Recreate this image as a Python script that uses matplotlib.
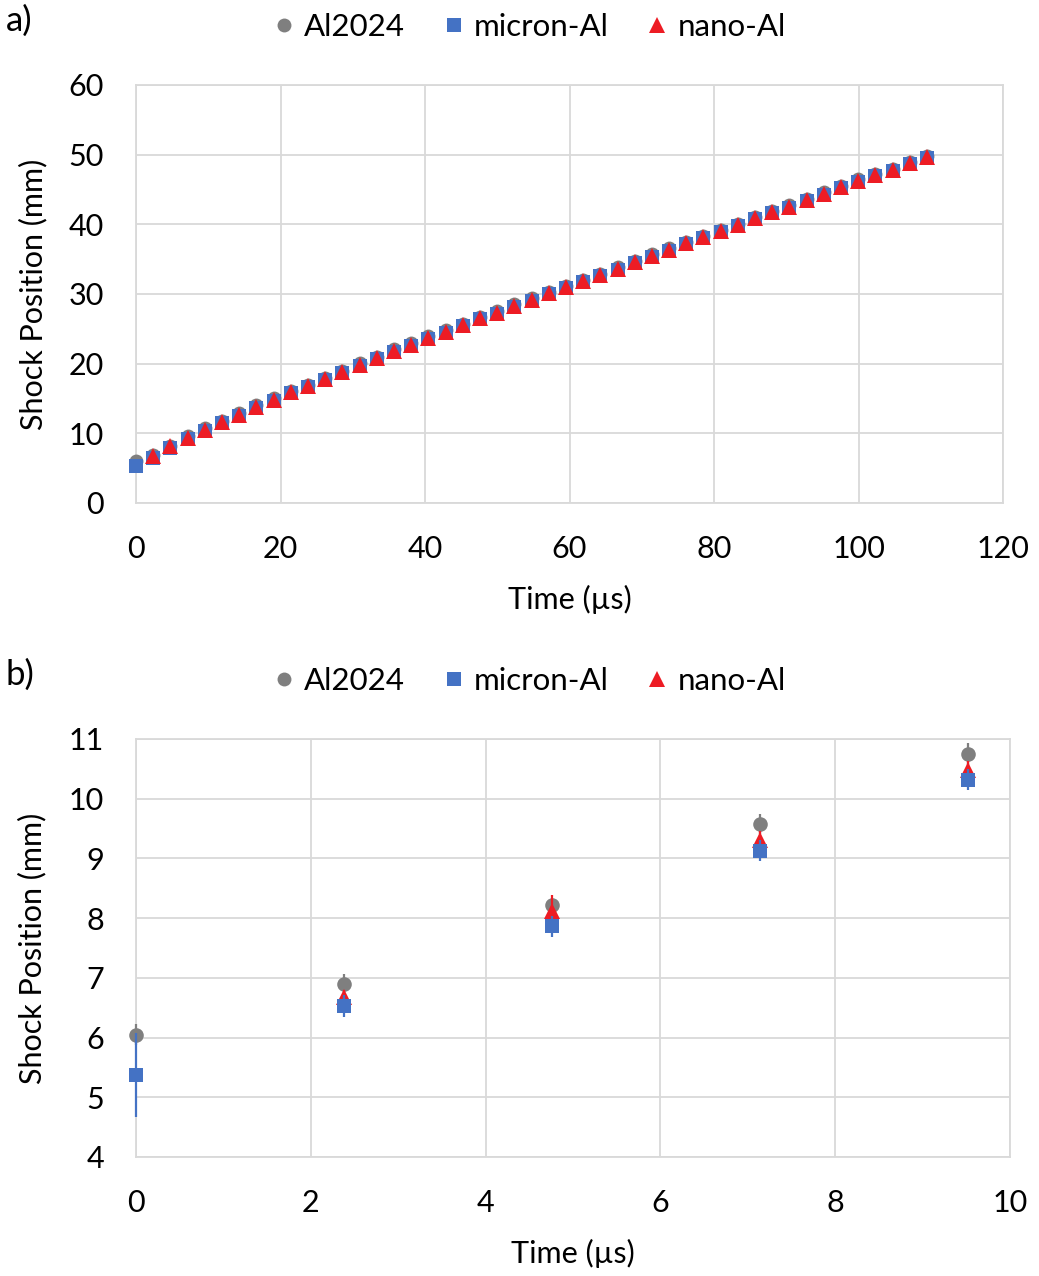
import numpy as np
import matplotlib.pyplot as plt

# time axis: frame interval ~2.38 us, 47 frames
time_us = [0.0, 2.38, 4.76, 7.14, 9.52, 11.9, 14.28, 16.66, 19.04, 21.42,
           23.8, 26.18, 28.56, 30.94, 33.32, 35.7, 38.08, 40.46, 42.84, 45.22,
           47.6, 49.98, 52.36, 54.74, 57.12, 59.5, 61.88, 64.26, 66.64, 69.02,
           71.4, 73.78, 76.16, 78.54, 80.92, 83.3, 85.68, 88.06, 90.44, 92.82,
           95.2, 97.58, 99.96, 102.34, 104.72, 107.1, 109.48]

al2024 = [6.05, 6.89, 8.22, 9.57, 10.75, 11.8, 12.9, 14.0, 15.05, 16.1,
          16.95, 18.0, 19.0, 20.05, 21.0, 22.05, 22.9, 23.95, 24.8, 25.75,
          26.7, 27.5, 28.5, 29.4, 30.3, 31.15, 32.05, 32.9, 33.85, 34.8,
          35.7, 36.55, 37.5, 38.35, 39.2, 40.05, 41.1, 41.95, 42.75, 43.7,
          44.6, 45.5, 46.45, 47.25, 48.0, 48.95, 49.8]

micron_al = [5.37, 6.53, 7.86, 9.13, 10.32, 11.45, 12.55, 13.65, 14.7, 15.75,
             16.6, 17.65, 18.65, 19.7, 20.65, 21.7, 22.55, 23.6, 24.45, 25.4,
             26.35, 27.15, 28.15, 29.05, 29.95, 30.8, 31.7, 32.55, 33.5, 34.45,
             35.35, 36.2, 37.15, 38.0, 38.85, 39.7, 40.75, 41.6, 42.4, 43.35,
             44.25, 45.15, 46.1, 46.9, 47.65, 48.6, 49.45]

nano_al = [np.nan, 6.68, 8.12, 9.31, 10.48, 11.6, 12.7, 13.8, 14.85, 15.9,
           16.75, 17.8, 18.8, 19.85, 20.8, 21.85, 22.7, 23.75, 24.6, 25.55,
           26.5, 27.3, 28.3, 29.2, 30.1, 30.95, 31.85, 32.7, 33.65, 34.6,
           35.5, 36.35, 37.3, 38.15, 39.0, 39.85, 40.9, 41.75, 42.55, 43.5,
           44.4, 45.3, 46.25, 47.05, 47.8, 48.75, 49.6]

# error bars (first five frames, shown in panel b)
al2024_err = [0.17, 0.18, 0.12, 0.17, 0.18]
micron_err = [0.70, 0.19, 0.17, 0.17, 0.17]
nano_err = [np.nan, 0.12, 0.27, 0.15, 0.15]

GREY = "#7f7f7f"
BLUE = "#4472C4"
RED = "#ED1C24"
GRID = "#d9d9d9"
FONT = "Lato"

plt.rcParams["font.family"] = [FONT, "DejaVu Sans"]

fig = plt.figure(figsize=(10.39, 12.76), dpi=100)
ax_a = fig.add_axes([0.1309, 0.6058, 0.8345, 0.3276])
ax_b = fig.add_axes([0.1309, 0.0933, 0.8412, 0.3276])


def style_axes(ax):
    ax.grid(True, color=GRID, linewidth=1.3)
    ax.set_axisbelow(True)
    for side in ax.spines.values():
        side.set_color(GRID)
        side.set_linewidth(1.3)
    ax.tick_params(length=0, labelsize=22, pad=23, colors="black")
    ax.set_xlabel("Time (µs)", fontsize=22)
    ax.set_ylabel("Shock Position (mm)", fontsize=22)
    ax.xaxis.set_label_coords(0.5, -0.195)
    ax.yaxis.set_label_coords(-0.102, 0.5)


# panel a
ax_a.plot(time_us, al2024, "o", color=GREY, ms=10, mew=0, zorder=3, clip_on=False)
ax_a.plot(time_us, micron_al, "s", color=BLUE, ms=9.5, mew=0, zorder=4, clip_on=False)
ax_a.plot(time_us, nano_al, "^", color=RED, ms=11, mew=0, zorder=5, clip_on=False)
ax_a.set_xlim(0, 120)
ax_a.set_ylim(0, 60)
ax_a.set_xticks(range(0, 121, 20))
ax_a.set_yticks(range(0, 61, 10))
style_axes(ax_a)

# panel b: first five frames with error bars
n = 5
bars = [
    (al2024[:n], al2024_err, "o", GREY, 10.5, 3),
    (nano_al[:n], nano_err, "^", RED, 11, 4),
    (micron_al[:n], micron_err, "s", BLUE, 10, 5),
]
for vals, errs, mk, col, size, z in bars:
    cont = ax_b.errorbar(time_us[:n], vals, yerr=errs, fmt=mk, color=col,
                         ms=size, mew=0, elinewidth=1.6, capsize=4,
                         capthick=1.6, zorder=z)
    parts = [cont.lines[0]] + list(cont.lines[1]) + list(cont.lines[2])
    for artist in parts:
        artist.set_clip_on(False)

ax_b.set_xlim(0, 10)
ax_b.set_ylim(4, 11)
ax_b.set_xticks(range(0, 11, 2))
ax_b.set_yticks(range(4, 12))
style_axes(ax_b)

# legends and panel letters
handles = [
    plt.Line2D([], [], ls="none", marker="o", color=GREY, ms=10, mew=0),
    plt.Line2D([], [], ls="none", marker="s", color=BLUE, ms=9.5, mew=0),
    plt.Line2D([], [], ls="none", marker="^", color=RED, ms=11, mew=0),
]
names = ["Al2024", "micron-Al", "nano-Al"]
for y_px, letter in [(27, "a)"), (681, "b)")]:
    fig.legend(handles, names, loc="center", ncol=3, frameon=False,
               fontsize=22.5, bbox_to_anchor=(527 / 1039, 1 - y_px / 1276),
               handletextpad=0.15, columnspacing=1.05, handlelength=1.0)
    fig.text(6 / 1039, 1 - (y_px - 6) / 1276, letter, fontsize=25,
             va="center", ha="left")

fig.savefig("out.png", dpi=100)
